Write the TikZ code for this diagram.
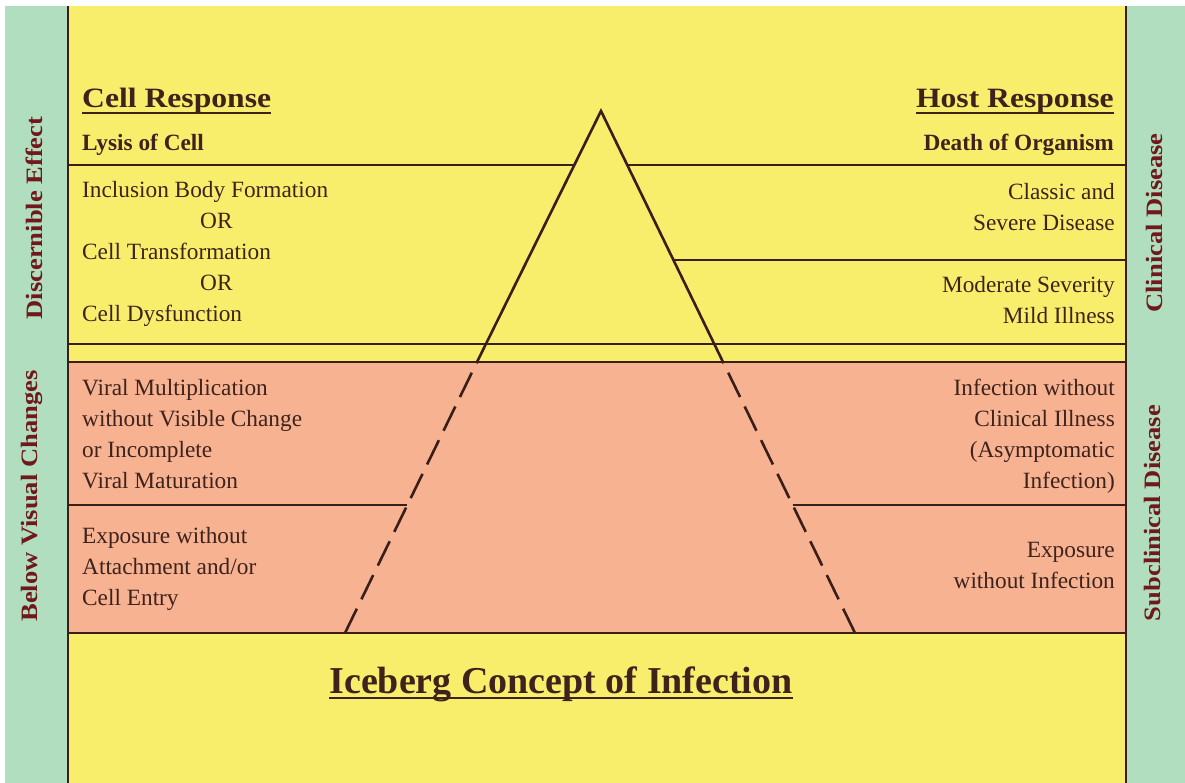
\documentclass[tikz,border=0pt]{standalone}
\usepackage{fontspec}
\setmainfont{Liberation Serif}
\newfontfamily\headfont[FakeStretch=1.13]{Liberation Serif}
\definecolor{ylw}{RGB}{249,238,108}
\definecolor{pnk}{RGB}{246,178,145}
\definecolor{grn}{RGB}{176,222,190}
\definecolor{ink}{RGB}{58,30,26}
\definecolor{txt}{RGB}{62,34,28}
\definecolor{side}{RGB}{112,24,28}
\begin{document}
\begin{tikzpicture}[x=1pt,y=-1pt,
  rule/.style={draw=ink,line width=2.4pt},
  edge/.style={draw=ink,line width=2.6pt,line join=miter},
  dashedge/.style={draw=ink,line width=2.6pt,dash pattern=on 27pt off 10.5pt},
  body/.style={inner sep=0pt,text=txt,font=\fontsize{23.3}{31}\selectfont},
  lbl/.style={body,anchor=base west},
  rbl/.style={body,anchor=base east},
  bold/.style={inner sep=0pt,text=txt,font=\fontsize{23.3}{31}\selectfont\bfseries},
  head/.style={inner sep=0pt,text=txt,font=\headfont\fontsize{28}{34}\selectfont\bfseries},
  sidelbl/.style={inner sep=0pt,text=side,rotate=90,anchor=base,font=\headfont\fontsize{23.5}{28}\selectfont\bfseries},
  ul/.style={draw=txt,line width=2pt}]

\useasboundingbox (0,0) rectangle (1185,783);
\fill[white] (0,0) rectangle (1185,783);
\fill[grn] (5,6) rectangle (68,783);
\fill[grn] (1126,6) rectangle (1185,783);
\fill[ylw] (68,6) rectangle (1126,783);
\fill[pnk] (68,362) rectangle (1126,633);

% iceberg corners
\coordinate (apex) at (601,111);
\coordinate (lw) at (477,362);
\coordinate (rw) at (723,362);
\coordinate (lb) at (345,633);
\coordinate (rb) at (855,633);
% where the rules meet the iceberg
\coordinate (c165l) at (574.3,165);
\coordinate (c165r) at (627.2,165);
\coordinate (c260r) at (673.4,260);
\coordinate (c505l) at (407.4,505);
\coordinate (c505r) at (792.6,505);
% frame ends
\coordinate (fl165) at (68,165);   \coordinate (fr165) at (1126,165);
\coordinate (fr260) at (1126,260);
\coordinate (fl344) at (68,344);   \coordinate (fr344) at (1126,344);
\coordinate (fl362) at (68,362);   \coordinate (fr362) at (1126,362);
\coordinate (fl505) at (68,505);   \coordinate (fr505) at (1126,505);
\coordinate (fl633) at (68,633);   \coordinate (fr633) at (1126,633);
\coordinate (flt) at (68,6);       \coordinate (flb) at (68,783);
\coordinate (frt) at (1126,6);     \coordinate (frb) at (1126,783);

\draw[rule] (flt) -- (flb);
\draw[rule] (frt) -- (frb);
\draw[rule] (fl165) -- (c165l);
\draw[rule] (c165r) -- (fr165);
\draw[rule] (c260r) -- (fr260);
\draw[rule] (fl344) -- (fr344);
\draw[rule] (fl362) -- (fr362);
\draw[rule] (fl505) -- (c505l);
\draw[rule] (c505r) -- (fr505);
\draw[rule] (fl633) -- (fr633);

\draw[edge] (lw) -- (apex) -- (rw);
\draw[dashedge] (lb) -- (lw);
\draw[dashedge] (rb) -- (rw);

% left column
\node[head,anchor=base west] (cellresp) at (82,108) {Cell Response};
\draw[ul] ([yshift=-5pt]cellresp.base west) -- ([yshift=-5pt]cellresp.base east);
\node[bold,anchor=base west] (lysis) at (82,151) {Lysis of Cell};
\node[lbl] (incl) at (82,198) {\begin{tabular}[t]{@{}l@{}}Inclusion Body Formation\\ \hspace*{118pt}OR\\ Cell Transformation\\ \hspace*{118pt}OR\\ Cell Dysfunction\end{tabular}};
\node[lbl] (viral) at (82,395) {\begin{tabular}[t]{@{}l@{}}Viral Multiplication\\ without Visible Change\\ or Incomplete\\ Viral Maturation\end{tabular}};
\node[lbl] (expl) at (82,543) {\begin{tabular}[t]{@{}l@{}}Exposure without\\ Attachment and/or\\ Cell Entry\end{tabular}};

% right column
\node[head,anchor=base east] (hostresp) at (1114,108) {Host Response};
\draw[ul] ([yshift=-5pt]hostresp.base west) -- ([yshift=-5pt]hostresp.base east);
\node[bold,anchor=base east] (death) at (1114,151) {Death of Organism};
\node[rbl] (classic) at (1115,200) {\begin{tabular}[t]{@{}r@{}}Classic and\\ Severe Disease\end{tabular}};
\node[rbl] (moder) at (1115,293) {\begin{tabular}[t]{@{}r@{}}Moderate Severity\\ Mild Illness\end{tabular}};
\node[rbl] (infect) at (1115,395) {\begin{tabular}[t]{@{}r@{}}Infection without\\ Clinical Illness\\ (Asymptomatic\\ Infection)\end{tabular}};
\node[rbl] (expr) at (1115,557) {\begin{tabular}[t]{@{}r@{}}Exposure\\ without Infection\end{tabular}};

% side labels
\node[sidelbl] (disc) at (42,218) {Discernible Effect};
\node[sidelbl] (below) at (37,496) {Below Visual Changes};
\node[sidelbl] (clin) at (1162,223) {Clinical Disease};
\node[sidelbl] (subc) at (1160,513) {Subclinical Disease};

% title
\node[inner sep=0pt,text=txt,anchor=base,font=\fontsize{38}{44}\selectfont\bfseries] (title) at (561,693) {Iceberg Concept of Infection};
\draw[ul,line width=2.4pt] ([yshift=-5pt]title.base west) -- ([yshift=-5pt]title.base east);
\end{tikzpicture}
\end{document}
